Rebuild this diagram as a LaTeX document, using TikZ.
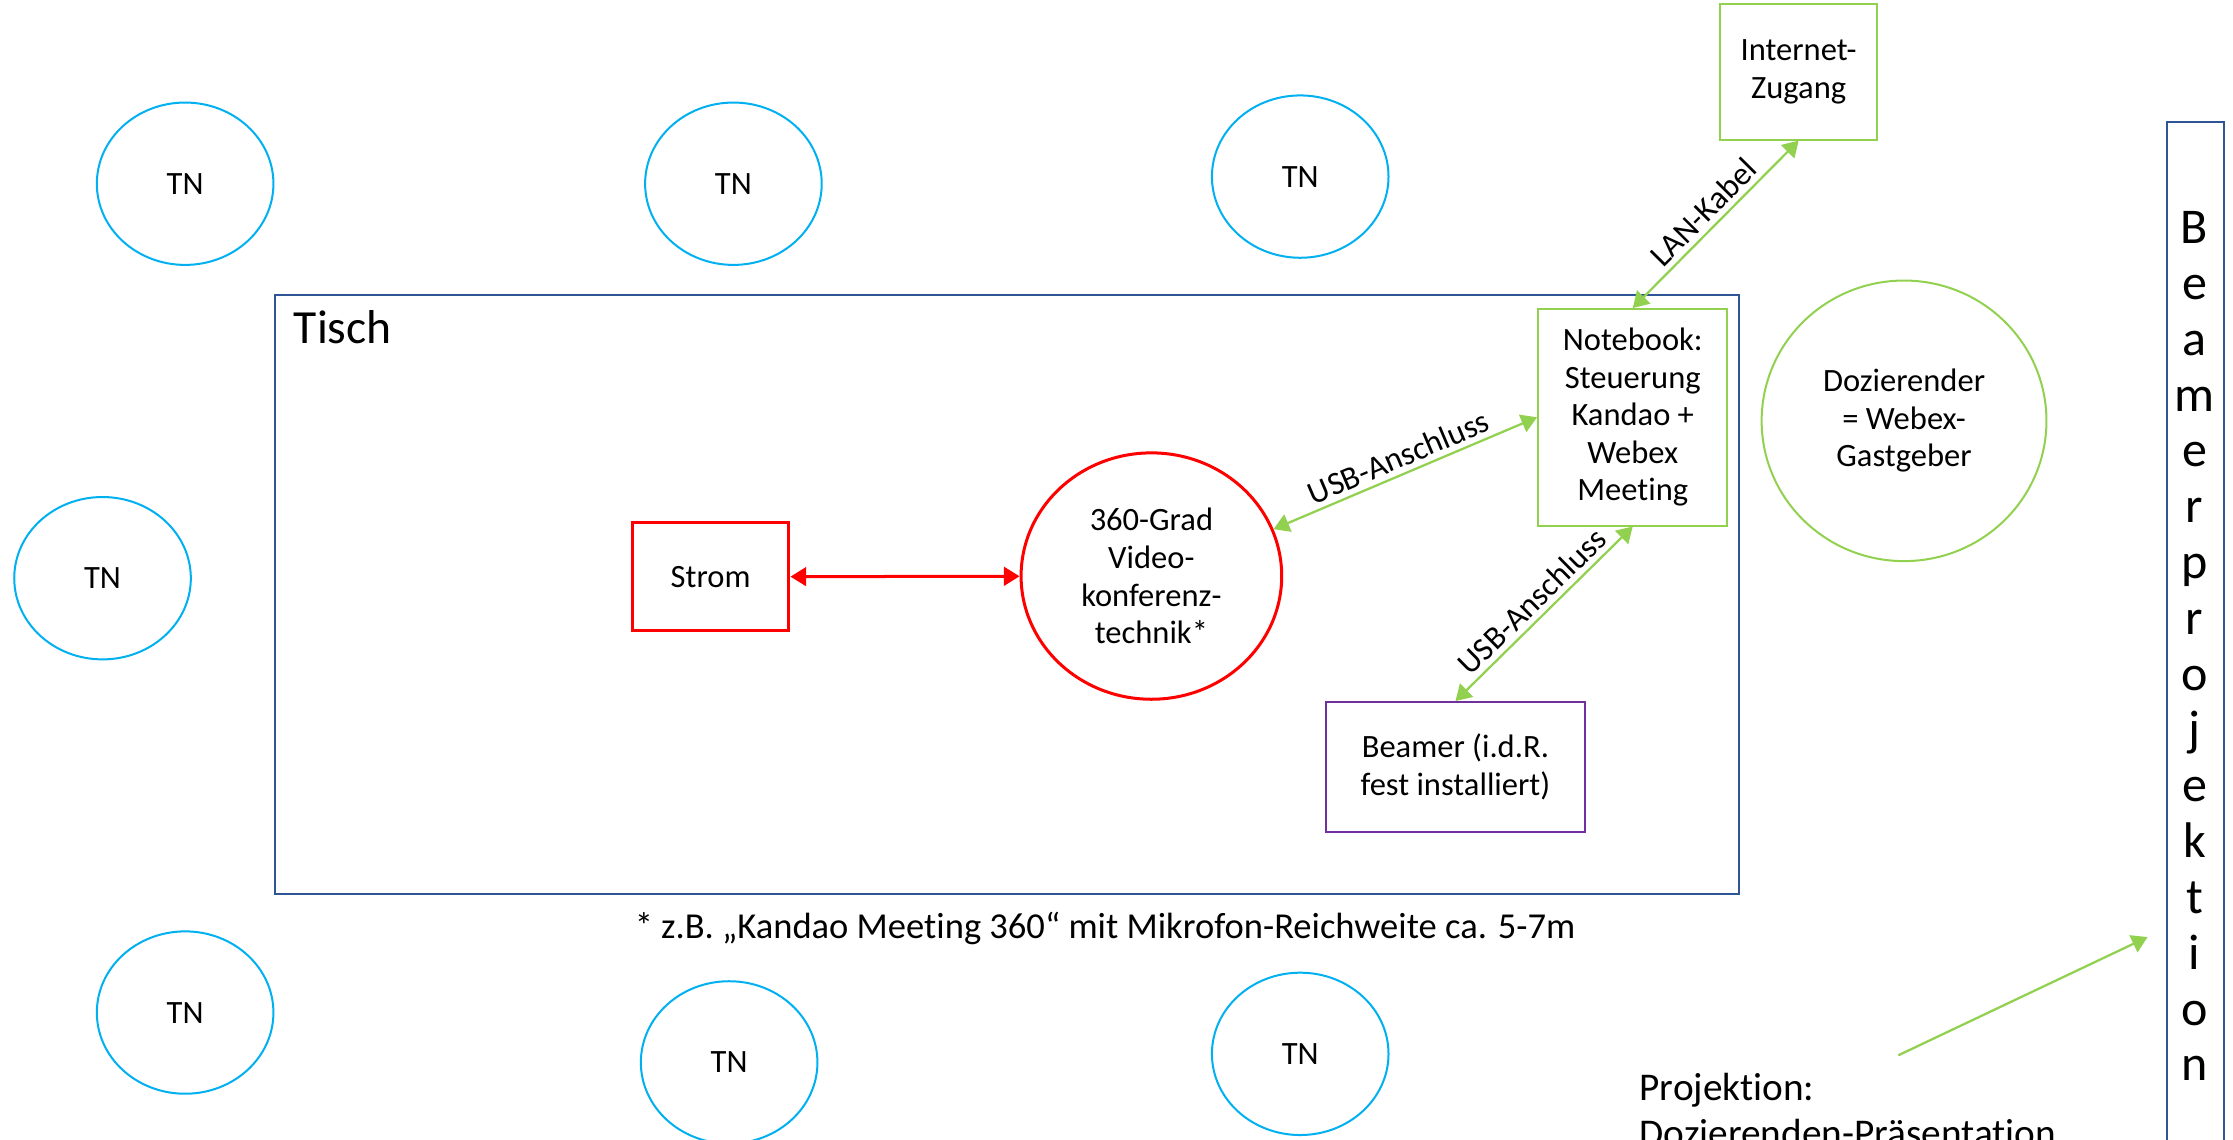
\documentclass[tikz,border=0pt]{standalone}
\usepackage{fontspec}
\setmainfont{Carlito}[Ligatures=NoCommon]
\usetikzlibrary{shapes.geometric,arrows.meta}

\definecolor{tnblue}{HTML}{00B0F0}
\definecolor{tischblue}{HTML}{2F5597}
\definecolor{strred}{HTML}{FF0000}
\definecolor{lgreen}{HTML}{92D050}
\definecolor{beampurple}{HTML}{7030A0}

\tikzset{
  tn/.style={ellipse,draw=tnblue,line width=0.8pt,minimum width=24.8mm,minimum height=22.8mm,inner sep=0pt},
  box/.style={rectangle,draw,line width=0.8pt,align=center,inner sep=0pt},
  link/.style={line width=0.9pt,<->},
  lbl/.style={sloped,above,text=black,inner sep=2pt}
}

\begin{document}
\begin{tikzpicture}[x=0.2mm,y=-0.2mm,font=\fontsize{13}{15}\selectfont,
    >={Triangle[length=2.2mm,width=2.6mm]}]
  \clip (0,0) rectangle (1568,800);

  % participants
  \node[tn] (tn1) at (130,129) {TN};
  \node[tn] (tn2) at (515,129) {TN};
  \node[tn] (tn3) at (913,124) {TN};
  \node[tn] (tn4) at (72,406) {TN};
  \node[tn] (tn5) at (130,711) {TN};
  \node[tn] (tn6) at (512,746) {TN};
  \node[tn] (tn7) at (913,740) {TN};

  % table
  \draw[tischblue,line width=0.8pt] (193,207) rectangle (1221,628);
  \node[anchor=base west,inner sep=0pt,font=\fontsize{19}{23}\selectfont] (tisch) at (206,241) {Tisch};

  \node[box,draw=strred,line width=1.2pt,minimum width=22mm,minimum height=15.2mm] (strom) at (499,405) {Strom};
  \node[ellipse,draw=strred,line width=1.2pt,minimum width=36.6mm,minimum height=34.6mm,align=center,inner sep=0pt] (cam) at (808.5,404.5) {360-Grad\\Video-\\konferenz-\\technik*};
  \node[box,draw=lgreen,minimum width=26.6mm,minimum height=30.4mm] (nb) at (1146.5,293) {Notebook:\\Steuerung\\Kandao +\\Webex\\Meeting};
  \node[box,draw=lgreen,minimum width=22mm,minimum height=19mm] (inet) at (1263,50.5) {Internet-\\Zugang};
  \node[box,draw=beampurple,minimum width=36.4mm,minimum height=18.2mm] (beamer) at (1022,538.5) {Beamer (i.d.R.\\fest installiert)};
  \node[ellipse,draw=lgreen,line width=0.8pt,minimum width=40mm,minimum height=39.4mm,align=center,inner sep=0pt] (doz) at (1337,295.5) {Dozierender\\= Webex-\\Gastgeber};

  \draw[link,strred,line width=1.2pt] (strom) -- (cam);
  \draw[link,lgreen] (cam.21) -- (nb.west) node[lbl,midway] {USB-Anschluss};
  \draw[link,lgreen] (beamer.north) -- (nb.south) node[lbl,midway] {USB-Anschluss};
  \draw[link,lgreen] (nb.north) -- (inet.south) node[lbl,midway] {LAN-Kabel};

  \node[font=\fontsize{14.6}{17}\selectfont] (note) at (776,652) {* z.B. „Kandao Meeting 360“ mit Mikrofon-Reichweite ca. 5-7m};

  % projection wall
  \node[box,draw=tischblue,minimum width=8mm,minimum height=150mm,anchor=north west] (wall) at (1521,85) {};
  \foreach \ch [count=\i from 0] in {B,e,a,m,e,r,p,r,o,j,e,k,t,i,o,n}
    \node[anchor=base,font=\fontsize{20}{24}\selectfont] (w\i) at (1541,{171+39.2*\i}) {\ch};

  \coordinate (pstart) at (1333,741);
  \coordinate (pend) at (1508,658);
  \draw[lgreen,line width=0.9pt,->] (pstart) -- (pend);
  \node[anchor=base west,align=left,inner sep=0pt,font=\fontsize{15.7}{18.5}\selectfont] (projtext) at (1151,805) {Projektion:\\Dozierenden-Präsentation};
\end{tikzpicture}
\end{document}
